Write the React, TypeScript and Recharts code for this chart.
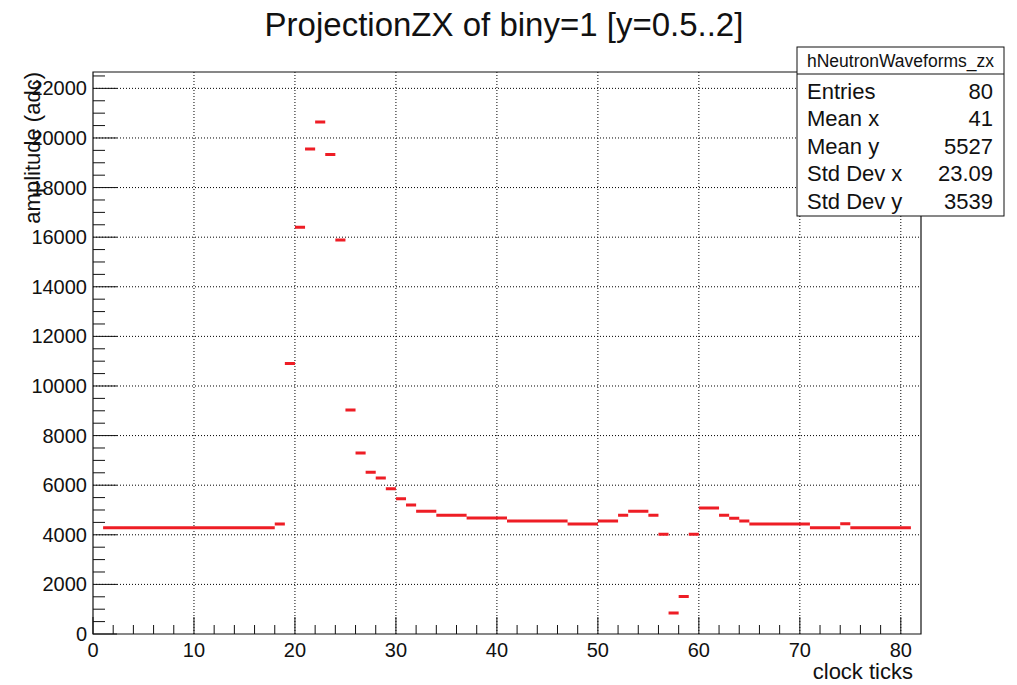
import { CartesianGrid, ComposedChart, Line, ReferenceArea, XAxis, YAxis } from "recharts";

// amplitude per clock-tick bin, bins 1..80
const amplitudes = [
  4280, 4280, 4280, 4280, 4280, 4280, 4280, 4280, 4280, 4280,
  4280, 4280, 4280, 4280, 4280, 4280, 4280, 4440, 10910, 16400,
  19560, 20640, 19330, 15890, 9030, 7300, 6520, 6290, 5860, 5450,
  5200, 4950, 4950, 4790, 4790, 4790, 4680, 4680, 4680, 4680,
  4560, 4560, 4560, 4560, 4560, 4560, 4440, 4440, 4440, 4560,
  4560, 4790, 4950, 4950, 4790, 4020, 850, 1510, 4020, 5080,
  5080, 4790, 4670, 4560, 4440, 4440, 4440, 4440, 4440, 4440,
  4280, 4280, 4280, 4450, 4280, 4280, 4280, 4280, 4280, 4280,
];
const firstBin = 1;

const xTicks = [0, 2, 4, 6, 8, 10, 12, 14, 16, 18, 20, 22, 24, 26, 28, 30, 32, 34, 36, 38, 40,
  42, 44, 46, 48, 50, 52, 54, 56, 58, 60, 62, 64, 66, 68, 70, 72, 74, 76, 78, 80];
const xMajors = [10, 20, 30, 40, 50, 60, 70, 80];
const yTicks = [0, 500, 1000, 1500, 2000, 2500, 3000, 3500, 4000, 4500, 5000, 5500, 6000, 6500,
  7000, 7500, 8000, 8500, 9000, 9500, 10000, 10500, 11000, 11500, 12000, 12500, 13000, 13500,
  14000, 14500, 15000, 15500, 16000, 16500, 17000, 17500, 18000, 18500, 19000, 19500, 20000,
  20500, 21000, 21500, 22000, 22500];
const yMajors = [2000, 4000, 6000, 8000, 10000, 12000, 14000, 16000, 18000, 20000, 22000];

const X_MAX = 82;
const Y_MAX = 22660;

const statsTitle = "hNeutronWaveforms_zx";
const statsNames = ["Entries", "Mean x", "Mean y", "Std Dev x", "Std Dev y"];
const statsValues = ["80", "41", "5527", "23.09", "3539"];

const FONT = "'Liberation Sans', Arial, Helvetica, sans-serif";
const RED = "#ee1d25";

// each bin becomes a flat segment from its low edge to its high edge; nulls break the path
const segments = amplitudes.flatMap((v, i) => [
  { x: firstBin + i, y: v },
  { x: firstBin + i + 1, y: v },
  { x: firstBin + i + 1, y: null },
]);

function XTick(props: any) {
  const { x, y, payload } = props;
  const major = payload.value % 10 === 0;
  return (
    <g>
      <line x1={x} x2={x} y1={y} y2={y - (major ? 17 : 9)} stroke="#111" />
      {major && (
        <text x={x} y={y + 23} textAnchor="middle" fontSize={20} fontFamily={FONT} fill="#111">
          {payload.value}
        </text>
      )}
    </g>
  );
}

function YTick(props: any) {
  const { x, y, payload } = props;
  const major = payload.value % 2000 === 0;
  return (
    <g>
      <line x1={x} x2={x + (major ? 24 : 12)} y1={y} y2={y} stroke="#111" />
      {major && (
        <text x={x - 6} y={y} dy="0.35em" textAnchor="end" fontSize={20} fontFamily={FONT} fill="#111">
          {payload.value}
        </text>
      )}
    </g>
  );
}

export default function App() {
  return (
    <div style={{ position: "absolute", left: 0, top: 0, width: 1017, height: 685, background: "#fff" }}>
      <ComposedChart width={1017} height={685} margin={{ top: 72, right: 96, left: 0, bottom: 0 }}>
        <CartesianGrid
          stroke="#000"
          strokeDasharray="1 2"
          horizontalValues={yMajors}
          verticalValues={xMajors}
        />
        <XAxis
          dataKey="x"
          type="number"
          domain={[0, X_MAX]}
          ticks={xTicks}
          interval={0}
          height={51}
          tickSize={0}
          tickMargin={0}
          tickLine={false}
          axisLine={false}
          tick={<XTick />}
          allowDataOverflow
          label={({ viewBox }: any) => (
            <text
              x={viewBox.x + viewBox.width - 8}
              y={679}
              textAnchor="end"
              fontSize={22}
              fontFamily={FONT}
              fill="#111"
            >
              clock ticks
            </text>
          )}
        />
        <YAxis
          type="number"
          domain={[0, Y_MAX]}
          ticks={yTicks}
          interval={0}
          width={93}
          tickSize={0}
          tickMargin={0}
          tickLine={false}
          axisLine={false}
          tick={<YTick />}
          allowDataOverflow
          label={({ viewBox }: any) => (
            <text
              transform={`translate(${viewBox.x + 40},${viewBox.y}) rotate(-90)`}
              textAnchor="end"
              fontSize={22}
              fontFamily={FONT}
              fill="#111"
            >
              amplitude (adc)
            </text>
          )}
        />
        <ReferenceArea x1={0} x2={X_MAX} y1={0} y2={Y_MAX} fill="none" stroke="#111" strokeWidth={1.2} />
        <Line
          data={segments}
          dataKey="y"
          type="linear"
          stroke={RED}
          strokeWidth={3}
          dot={false}
          activeDot={false}
          connectNulls={false}
          isAnimationActive={false}
        />
      </ComposedChart>
      <svg
        width={1017}
        height={685}
        style={{ position: "absolute", left: 0, top: 0, pointerEvents: "none" }}
      >
        <text x={504} y={36} textAnchor="middle" fontSize={33} fontFamily={FONT} fill="#111">
          ProjectionZX of biny=1 [y=0.5..2]
        </text>
        <rect x={797} y={47} width={207} height={169} fill="#fff" stroke="#111" />
        <line x1={797} x2={1004} y1={74} y2={74} stroke="#111" />
        <text x={900.5} y={67} textAnchor="middle" fontSize={17.5} fontFamily={FONT} fill="#111">
          {statsTitle}
        </text>
        {statsNames.map((name, i) => (
          <g key={name}>
            <text x={807} y={99 + i * 27.4} fontSize={22} fontFamily={FONT} fill="#111">
              {name}
            </text>
            <text x={993} y={99 + i * 27.4} textAnchor="end" fontSize={22} fontFamily={FONT} fill="#111">
              {statsValues[i]}
            </text>
          </g>
        ))}
      </svg>
    </div>
  );
}
